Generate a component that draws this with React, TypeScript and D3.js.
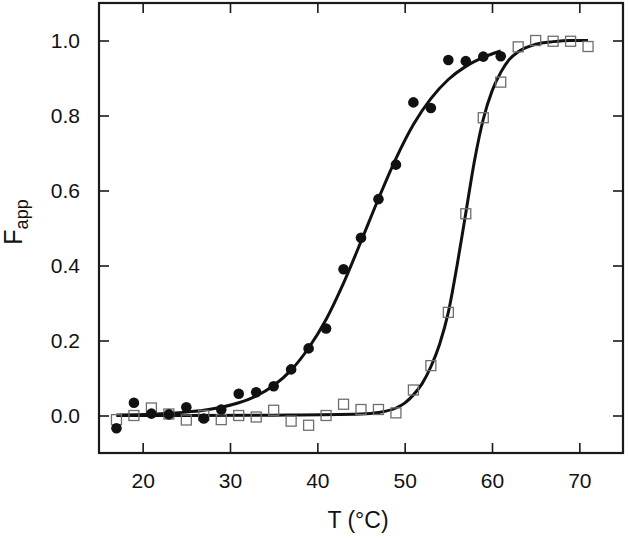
import React, { useEffect, useRef } from "react";
import * as d3 from "d3";

// Measured data: filled circles
const tempsFilled = [17, 19, 21, 23, 25, 27, 29, 31, 33, 35, 37, 39, 41, 43, 45, 47, 49, 51, 53, 55, 57, 59, 61];
const fFilled = [-0.034, 0.034, 0.005, 0.003, 0.022, -0.008, 0.016, 0.058, 0.062, 0.078, 0.123, 0.179, 0.232, 0.39, 0.474, 0.577, 0.669, 0.835, 0.82, 0.948, 0.945, 0.957, 0.958];

// Measured data: open squares
const tempsOpen = [17, 19, 21, 23, 25, 27, 29, 31, 33, 35, 37, 39, 41, 43, 45, 47, 49, 51, 53, 55, 57, 59, 61, 63, 65, 67, 69, 71];
const fOpen = [-0.011, 0.0, 0.02, 0.004, -0.012, 0.0, -0.011, 0.0, -0.004, 0.014, -0.015, -0.026, 0.0, 0.03, 0.016, 0.016, 0.007, 0.068, 0.133, 0.275, 0.538, 0.794, 0.889, 0.983, 1.0, 0.998, 0.998, 0.984];

// Fitted curves
const fitTempsFilled = [17, 21, 25, 27, 29, 31, 33, 35, 37, 39, 41, 43, 45, 47, 49, 51, 53, 55, 57, 59, 61];
const fitFilled = [0.0015, 0.0035, 0.009, 0.014, 0.022, 0.034, 0.052, 0.08, 0.121, 0.18, 0.256, 0.353, 0.464, 0.578, 0.685, 0.776, 0.845, 0.896, 0.931, 0.955, 0.972];

const fitTempsOpen = [17, 25, 35, 45, 47, 49, 50, 51, 52, 53, 54, 55, 56, 57, 58, 59, 60, 61, 62, 63, 65, 67, 69, 71];
const fitOpen = [0, 0, 0.001, 0.004, 0.008, 0.02, 0.033, 0.055, 0.085, 0.13, 0.19, 0.275, 0.4, 0.54, 0.68, 0.79, 0.865, 0.915, 0.95, 0.97, 0.99, 0.997, 1.0, 1.0];

const xTicks = [20, 30, 40, 50, 60, 70];
const yTicks = [0, 0.2, 0.4, 0.6, 0.8, 1.0];

const W = 629;
const H = 538;
const M = { left: 99, right: 623, top: 3, bottom: 453 };

export default function App() {
  const ref = useRef<SVGSVGElement>(null);

  useEffect(() => {
    const svg = d3.select(ref.current);
    svg.selectAll("*").remove();

    const x = d3.scaleLinear().domain([15, 75]).range([M.left, M.right]);
    const y = d3.scaleLinear().domain([-0.1, 1.1]).range([M.bottom, M.top]);

    const font = "Arial, 'Liberation Sans', sans-serif";
    const axisColor = "#1a1a1a";

    // Bottom axis
    const gB = svg.append("g").attr("transform", `translate(0,${M.bottom})`)
      .call(d3.axisBottom(x).tickValues(xTicks).tickFormat(d3.format("d")).tickSizeInner(-10).tickSizeOuter(0).tickPadding(20));
    // Top axis
    const gT = svg.append("g").attr("transform", `translate(0,${M.top})`)
      .call(d3.axisTop(x).tickValues(xTicks).tickSizeInner(-10).tickSizeOuter(0).tickFormat(() => ""));
    // Left axis
    const gL = svg.append("g").attr("transform", `translate(${M.left},0)`)
      .call(d3.axisLeft(y).tickValues(yTicks).tickFormat(d3.format(".1f")).tickSizeInner(-10).tickSizeOuter(0).tickPadding(19));
    // Right axis
    const gR = svg.append("g").attr("transform", `translate(${M.right},0)`)
      .call(d3.axisRight(y).tickValues(yTicks).tickSizeInner(-10).tickSizeOuter(0).tickFormat(() => ""));

    [gB, gT, gL, gR].forEach((g) => {
      g.select(".domain").remove();
      g.selectAll(".tick line").attr("stroke", axisColor).attr("stroke-width", 1.6);
      g.selectAll(".tick text").attr("font-family", font).attr("font-size", 21).attr("fill", "#111");
    });

    // Frame
    svg.append("rect")
      .attr("x", M.left).attr("y", M.top)
      .attr("width", M.right - M.left).attr("height", M.bottom - M.top)
      .attr("fill", "none").attr("stroke", axisColor).attr("stroke-width", 2.2);

    const line = d3.line<[number, number]>()
      .x((d) => x(d[0])).y((d) => y(d[1]))
      .curve(d3.curveMonotoneX);

    svg.append("path")
      .datum(fitTempsOpen.map((t, i) => [t, fitOpen[i]] as [number, number]))
      .attr("d", line).attr("fill", "none").attr("stroke", "#111").attr("stroke-width", 3);
    svg.append("path")
      .datum(fitTempsFilled.map((t, i) => [t, fitFilled[i]] as [number, number]))
      .attr("d", line).attr("fill", "none").attr("stroke", "#111").attr("stroke-width", 3);

    // Open squares
    const s = 10;
    svg.append("g").selectAll("rect")
      .data(tempsOpen.map((t, i) => [t, fOpen[i]]))
      .join("rect")
      .attr("x", (d) => x(d[0]) - s / 2).attr("y", (d) => y(d[1]) - s / 2)
      .attr("width", s).attr("height", s)
      .attr("fill", "none").attr("stroke", "#6e6e6e").attr("stroke-width", 1.3);

    // Filled circles
    svg.append("g").selectAll("circle")
      .data(tempsFilled.map((t, i) => [t, fFilled[i]]))
      .join("circle")
      .attr("cx", (d) => x(d[0])).attr("cy", (d) => y(d[1]))
      .attr("r", 5.3).attr("fill", "#111");

    // X title
    svg.append("text")
      .attr("x", 358).attr("y", 528)
      .attr("text-anchor", "middle")
      .attr("font-family", font).attr("font-size", 23).attr("fill", "#111")
      .text("T (°C)");

    // Y title
    const yt = svg.append("text")
      .attr("transform", `translate(22,222) rotate(-90)`)
      .attr("text-anchor", "middle")
      .attr("font-family", font).attr("fill", "#111");
    yt.append("tspan").attr("font-size", 25).text("F");
    yt.append("tspan").attr("font-size", 18).attr("dy", 6).text("app");
  }, []);

  return (
    <div style={{ position: "absolute", left: 0, top: 0 }}>
      <svg ref={ref} width={W} height={H} style={{ display: "block", background: "#fff" }} />
    </div>
  );
}
